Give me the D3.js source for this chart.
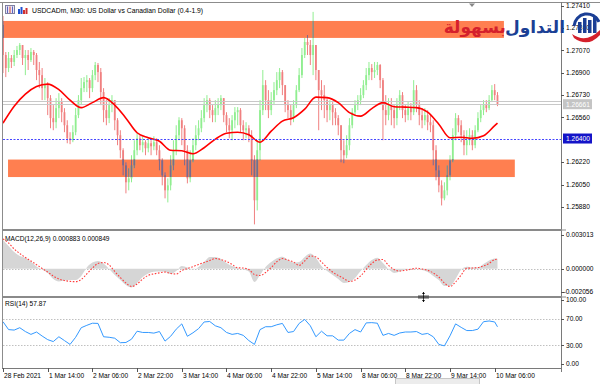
<!DOCTYPE html>
<html>
<head>
<meta charset="utf-8">
<script src="https://cdn.jsdelivr.net/npm/d3@7/dist/d3.min.js"></script>
<style>
body { margin: 0; background: #fff; }
svg { display: block; font-family: "Liberation Sans", Arial, sans-serif; }
</style>
</head>
<body>
<svg id="chart"></svg>
<script>
// USDCADm M30, shown here as one candle per hour (hour 0 = first bar on screen)
var timeLabels = ["28 Feb 2021", "1 Mar 14:00", "2 Mar 06:00", "2 Mar 22:00", "3 Mar 14:00",
  "4 Mar 06:00", "4 Mar 22:00", "5 Mar 14:00", "8 Mar 06:00", "8 Mar 22:00", "9 Mar 14:00", "10 Mar 06:00"];
var labelStep = 16; // hours between time labels

var firstOpen = 1.27264;
var closes = [
  1.27035,1.26936,1.27012,1.26982,1.27035,1.27073,1.27111,1.27012,1.27035,1.26997,
  1.27058,1.27035,1.26921,1.26882,1.26783,1.26806,1.26707,1.26555,1.26524,1.26631,
  1.26677,1.26600,1.26501,1.26402,1.26387,1.26448,1.26578,1.26692,1.26783,1.26829,
  1.26844,1.26783,1.26882,1.26959,1.26905,1.26753,1.26616,1.26555,1.26654,1.26692,
  1.26539,1.26425,1.26311,1.26196,1.26067,1.26097,1.26196,1.26311,1.26402,1.26349,
  1.26372,1.26326,1.26364,1.26341,1.26372,1.26311,1.26234,1.26120,1.26006,1.26044,
  1.26196,1.26311,1.26425,1.26539,1.26478,1.26311,1.26097,1.26234,1.26349,1.26425,
  1.26478,1.26555,1.26654,1.26692,1.26616,1.26578,1.26631,1.26654,1.26707,1.26578,
  1.26501,1.26463,1.26539,1.26600,1.26616,1.26501,1.26463,1.26478,1.26425,1.26234,
  1.25930,1.26311,1.26616,1.26806,1.26692,1.26616,1.26692,1.26768,1.26844,1.26905,
  1.26806,1.26654,1.26616,1.26555,1.26654,1.26768,1.26882,1.27035,1.27134,1.27111,
  1.27035,1.27111,1.26921,1.26768,1.26730,1.26692,1.26616,1.26654,1.26600,1.26555,
  1.26501,1.26311,1.26273,1.26349,1.26501,1.26600,1.26654,1.26692,1.26730,1.26806,
  1.26882,1.26936,1.26905,1.26921,1.26959,1.26844,1.26616,1.26578,1.26654,1.26616,
  1.26555,1.26654,1.26730,1.26616,1.26578,1.26631,1.26600,1.26768,1.26654,1.26578,
  1.26539,1.26578,1.26524,1.26501,1.26311,1.26158,1.26044,1.25945,1.26006,1.26120,
  1.26234,1.26425,1.26555,1.26501,1.26425,1.26349,1.26387,1.26425,1.26349,1.26463,
  1.26555,1.26616,1.26654,1.26631,1.26692,1.26768,1.26730,1.26661
];
var highs = [
  1.27332,1.27058,1.27058,1.27035,1.27073,1.27104,1.27126,1.27111,1.27073,1.27073,
  1.27088,1.27073,1.27050,1.26982,1.26936,1.26860,1.26829,1.26730,1.26654,1.26707,
  1.26745,1.26707,1.26631,1.26539,1.26448,1.26501,1.26631,1.26730,1.26860,1.26867,
  1.26882,1.26860,1.26921,1.26982,1.26974,1.26936,1.26783,1.26692,1.26707,1.26730,
  1.26692,1.26555,1.26463,1.26326,1.26219,1.26174,1.26273,1.26387,1.26440,1.26425,
  1.26417,1.26387,1.26402,1.26387,1.26417,1.26402,1.26349,1.26250,1.26143,1.26097,
  1.26273,1.26387,1.26501,1.26562,1.26555,1.26501,1.26349,1.26311,1.26402,1.26501,
  1.26539,1.26616,1.26707,1.26730,1.26707,1.26654,1.26692,1.26707,1.26730,1.26707,
  1.26600,1.26555,1.26578,1.26639,1.26639,1.26631,1.26539,1.26524,1.26501,1.26463,
  1.26273,1.26387,1.26692,1.26921,1.26844,1.26768,1.26753,1.26829,1.26905,1.26936,
  1.26921,1.26806,1.26692,1.26654,1.26692,1.26806,1.26936,1.27088,1.27165,1.27187,
  1.27149,1.27363,1.27111,1.26921,1.26844,1.26806,1.26707,1.26692,1.26677,1.26631,
  1.26578,1.26501,1.26387,1.26425,1.26555,1.26631,1.26692,1.26730,1.26783,1.26844,
  1.26936,1.26982,1.26966,1.26982,1.26982,1.26966,1.26860,1.26730,1.26707,1.26707,
  1.26654,1.26707,1.26768,1.26753,1.26654,1.26677,1.26669,1.26844,1.26806,1.26692,
  1.26631,1.26631,1.26616,1.26578,1.26539,1.26349,1.26196,1.26082,1.26067,1.26196,
  1.26273,1.26478,1.26593,1.26578,1.26539,1.26463,1.26463,1.26478,1.26463,1.26501,
  1.26600,1.26654,1.26692,1.26692,1.26730,1.26806,1.26814,1.26753
];
var lows = [
  1.26898,1.26867,1.26905,1.26936,1.26951,1.27012,1.27035,1.26959,1.26882,1.26921,
  1.26982,1.26959,1.26844,1.26783,1.26692,1.26692,1.26578,1.26478,1.26463,1.26478,
  1.26555,1.26524,1.26448,1.26364,1.26357,1.26372,1.26425,1.26555,1.26654,1.26753,
  1.26753,1.26707,1.26753,1.26844,1.26829,1.26654,1.26524,1.26501,1.26517,1.26600,
  1.26463,1.26349,1.26250,1.26120,1.25983,1.26006,1.26067,1.26174,1.26273,1.26311,
  1.26295,1.26273,1.26295,1.26273,1.26311,1.26273,1.26158,1.26044,1.25945,1.25914,
  1.26006,1.26158,1.26273,1.26387,1.26349,1.26196,1.26059,1.26067,1.26219,1.26311,
  1.26387,1.26448,1.26524,1.26600,1.26555,1.26524,1.26524,1.26578,1.26616,1.26524,
  1.26448,1.26402,1.26387,1.26478,1.26501,1.26448,1.26387,1.26402,1.26372,1.26120,
  1.25747,1.25853,1.26234,1.26578,1.26616,1.26555,1.26578,1.26654,1.26730,1.26783,
  1.26730,1.26600,1.26555,1.26501,1.26524,1.26631,1.26753,1.26860,1.27012,1.27035,
  1.26959,1.26882,1.26844,1.26463,1.26616,1.26555,1.26524,1.26539,1.26501,1.26501,
  1.26425,1.26219,1.26212,1.26250,1.26311,1.26478,1.26578,1.26616,1.26654,1.26707,
  1.26768,1.26844,1.26844,1.26860,1.26882,1.26783,1.26387,1.26501,1.26539,1.26501,
  1.26478,1.26501,1.26616,1.26555,1.26524,1.26539,1.26539,1.26578,1.26600,1.26501,
  1.26478,1.26501,1.26463,1.26448,1.26196,1.26082,1.25991,1.25891,1.25930,1.25968,
  1.26082,1.26219,1.26387,1.26448,1.26372,1.26273,1.26273,1.26349,1.26311,1.26326,
  1.26448,1.26524,1.26578,1.26600,1.26616,1.26677,1.26692,1.26646
];

// moving average, read every 4 hours, last value at the last bar
var maValues = [
  1.26517,1.26646,1.26738,1.26795,1.26814,1.26772,1.26692,1.26635,1.26673,1.26711,
  1.26654,1.26555,1.26444,1.26406,1.26379,1.26311,1.26307,1.26284,1.26330,1.26395,
  1.26440,1.26448,1.26429,1.26372,1.26456,1.26532,1.26558,1.26623,1.26715,1.26711,
  1.26673,1.26597,1.26570,1.26627,1.26673,1.26642,1.26639,1.26635,1.26600,1.26509,
  1.26406,1.26410,1.26402,1.26421,1.26498,1.26517
];
var maStep = 4;

// MACD(12,26,9), read every 2 hours
var macdValues = [
  0.00257,0.00203,0.00149,0.00114,0.00096,0.00064,0.00020,-0.00007,-0.00038,-0.00092,
  -0.00114,-0.00106,-0.00101,-0.00101,-0.00065,0.00011,0.00055,0.00069,0.00047,-0.00003,
  -0.00056,-0.00101,-0.00146,-0.00168,-0.00128,-0.00074,-0.00043,-0.00027,-0.00025,-0.00027,
  -0.00047,-0.00021,0.00024,0.00011,-0.00007,0.00015,0.00060,0.00105,0.00105,0.00087,
  0.00051,0.00024,0.00006,-0.00007,-0.00025,-0.00119,-0.00056,0.00015,0.00060,0.00093,
  0.00107,0.00078,0.00055,0.00060,0.00105,0.00136,0.00096,0.00024,-0.00021,-0.00056,
  -0.00092,-0.00128,-0.00119,-0.00083,-0.00021,0.00033,0.00078,0.00098,0.00051,-0.00003,
  -0.00038,-0.00025,-0.00007,0.00002,0.00002,-0.00012,-0.00030,-0.00065,-0.00101,-0.00155,
  -0.00155,-0.00092,-0.00007,0.00018,0.00011,0.00011,0.00042,0.00073,0.00091
];
var signalValues = [
  0.00266,0.00230,0.00176,0.00136,0.00100,0.00069,0.00036,0.00002,-0.00030,-0.00065,
  -0.00092,-0.00106,-0.00113,-0.00116,-0.00097,-0.00047,0.00006,0.00047,0.00055,0.00033,
  -0.00025,-0.00079,-0.00128,-0.00159,-0.00137,-0.00092,-0.00059,-0.00046,-0.00037,-0.00030,
  -0.00043,-0.00047,-0.00016,0.00002,0.00018,0.00038,0.00055,0.00073,0.00091,0.00082,
  0.00064,0.00038,0.00008,0.00006,-0.00007,-0.00052,-0.00061,-0.00034,0.00011,0.00062,
  0.00091,0.00078,0.00060,0.00029,0.00069,0.00114,0.00105,0.00060,0.00011,-0.00030,
  -0.00061,-0.00088,-0.00114,-0.00101,-0.00065,-0.00007,0.00047,0.00078,0.00082,0.00029,
  -0.00007,-0.00021,-0.00014,-0.00005,0.00004,-0.00003,-0.00014,-0.00038,-0.00074,-0.00128,
  -0.00159,-0.00119,-0.00056,0.00004,0.00006,0.00011,0.00024,0.00047,0.00082
];
var macdLast = 0.000883, signalLast = 0.000849;
var macdMax = 0.003013, macdMin = -0.002056;

// RSI(14), read every 2 hours
var rsiValues = [
  65.6,53.6,52.9,56.5,50.7,46.4,50.0,43.9,38.4,35.5,42.8,37.0,31.2,42.0,56.5,60.1,63.3,63.0,
  42.8,42.0,40.6,33.8,34.1,39.1,51.2,49.3,49.3,48.3,50.7,36.2,43.5,54.3,62.3,43.5,48.8,55.1,
  65.2,65.9,59.4,56.5,49.3,46.4,47.8,44.9,37.0,31.2,53.6,58.0,58.0,60.9,63.0,49.3,50.7,63.0,
  69.1,59.4,42.8,51.2,44.2,44.2,37.7,37.7,47.8,53.6,50.0,63.8,64.2,63.3,44.9,47.8,44.9,48.5,
  50.0,50.0,50.7,46.4,47.8,42.8,31.2,29.0,44.2,62.3,57.0,52.2,52.2,54.3,65.6,66.7,65.2
];
var rsiLast = 57.87;
var rsiLevels = [70, 30];
var rsiTicks = [100, 70, 30, 0];
var subStep = 2;

var priceTicks = [1.27410, 1.27240, 1.27070, 1.26900, 1.26730, 1.26560, 1.26220, 1.26050, 1.25880];
var bid = 1.26661, ask = 1.26684, alertLevel = 1.26400;
var zones = [
  {from: -2, to: 179.3, top: 1.27294, bottom: 1.27165},
  {from: 1.8, to: 183.2, top: 1.26240, bottom: 1.26107}
];

var W = 600, H = 384;
var left = 3, right = 561;
var mainTop = 3, mainBottom = 229;
var macdTop = 231, macdBottom = 296;
var rsiTop = 298, rsiBottom = 368;

var UP = "#90ee90", DOWN = "#f08080", INZONE = "#7b6a8a";

var svg = d3.select("#chart").attr("width", W).attr("height", H);
svg.append("rect").attr("width", W).attr("height", H).attr("fill", "#fff");

var x = d3.scaleLinear().domain([0, 176]).range([3, 494.7]);
var y = d3.scaleLinear().domain([1.25880, 1.27410]).range([206.9, 5.7]);
var yM = d3.scaleLinear().domain([macdMin, macdMax]).range([291.7, 235]);
var yR = d3.scaleLinear().domain([0, 100]).range([365, 299]);
var lastHour = closes.length - 1;

var defs = svg.append("defs");
defs.append("clipPath").attr("id", "mainClip").append("rect")
  .attr("x", left).attr("y", mainTop).attr("width", right - left).attr("height", mainBottom - mainTop);
var zoneClip = defs.append("clipPath").attr("id", "zoneClip");
zones.forEach(function(z) {
  zoneClip.append("rect")
    .attr("x", Math.max(left, x(z.from))).attr("y", y(z.top))
    .attr("width", x(z.to) - Math.max(left, x(z.from))).attr("height", y(z.bottom) - y(z.top));
});

var candles = closes.map(function(c, i) {
  return {h: i, o: i === 0 ? firstOpen : closes[i - 1], c: c, hi: highs[i], lo: lows[i]};
});

var main = svg.append("g").attr("clip-path", "url(#mainClip)");

var drawCandles = function(g, colorOf) {
  g.selectAll("line").data(candles).enter().append("line")
    .attr("x1", function(d) { return x(d.h); })
    .attr("x2", function(d) { return x(d.h); })
    .attr("y1", function(d) { return y(d.hi); })
    .attr("y2", function(d) { return y(d.lo); })
    .attr("stroke", colorOf).attr("stroke-width", 1);
  g.selectAll("rect").data(candles).enter().append("rect")
    .attr("x", function(d) { return x(d.h) - 0.9; })
    .attr("width", 1.8)
    .attr("y", function(d) { return y(Math.max(d.o, d.c)); })
    .attr("height", function(d) { return Math.max(0.8, Math.abs(y(d.o) - y(d.c))); })
    .attr("fill", colorOf);
};

// zones (drawn under the bars)
main.selectAll("rect.zone").data(zones).enter().append("rect").attr("class", "zone")
  .attr("x", function(d) { return x(d.from); })
  .attr("width", function(d) { return x(d.to) - x(d.from); })
  .attr("y", function(d) { return y(d.top); })
  .attr("height", function(d) { return y(d.bottom) - y(d.top); })
  .attr("fill", "#ff7f50");

drawCandles(main.append("g"), function(d) { return d.c >= d.o ? UP : DOWN; });
drawCandles(main.append("g").attr("clip-path", "url(#zoneClip)"), function() { return INZONE; });

// bid / ask lines
[ask, bid].forEach(function(p) {
  main.append("line").attr("x1", left).attr("x2", right).attr("y1", Math.round(y(p)) + 0.5).attr("y2", Math.round(y(p)) + 0.5)
    .attr("stroke", "#c8c8c8").attr("stroke-width", 1);
});

// moving average
var maPts = maValues.map(function(v, k) { return [k < maValues.length - 1 ? k * maStep : lastHour, v]; });
main.append("path").datum(maPts)
  .attr("d", d3.line().x(function(d) { return x(d[0]); }).y(function(d) { return y(d[1]); }).curve(d3.curveMonotoneX))
  .attr("fill", "none").attr("stroke", "#ff0000").attr("stroke-width", 1.6);

// alert level
main.append("line").attr("x1", left).attr("x2", right)
  .attr("y1", Math.round(y(alertLevel)) + 0.5).attr("y2", Math.round(y(alertLevel)) + 0.5)
  .attr("stroke", "#4646ff").attr("stroke-width", 1).attr("stroke-dasharray", "2,1.5");

// ---- MACD panel
var subPts = function(vals, last) {
  var pts = vals.map(function(v, j) { return [j * subStep, v]; });
  pts.push([lastHour, last]);
  return pts;
};
var macdPts = subPts(macdValues, macdLast);
svg.append("line").attr("x1", left).attr("x2", right).attr("y1", Math.round(yM(0)) + 0.5).attr("y2", Math.round(yM(0)) + 0.5)
  .attr("stroke", "#c0c0c0").attr("stroke-dasharray", "1.5,1.5");
svg.append("path").datum(macdPts)
  .attr("d", d3.area().x(function(d) { return x(d[0]); }).y0(yM(0)).y1(function(d) { return yM(d[1]); }).curve(d3.curveMonotoneX))
  .attr("fill", "#d6d6d6");
svg.append("path").datum(subPts(signalValues, signalLast))
  .attr("d", d3.line().x(function(d) { return x(d[0]); }).y(function(d) { return yM(d[1]); }).curve(d3.curveMonotoneX))
  .attr("fill", "none").attr("stroke", "#ff3c3c").attr("stroke-width", 1.1).attr("stroke-dasharray", "1.6,1.6");

// ---- RSI panel
rsiLevels.forEach(function(v) {
  svg.append("line").attr("x1", left).attr("x2", right).attr("y1", Math.round(yR(v)) + 0.5).attr("y2", Math.round(yR(v)) + 0.5)
    .attr("stroke", "#c0c0c0").attr("stroke-dasharray", "1.5,1.5");
});
svg.append("path").datum(subPts(rsiValues, rsiLast))
  .attr("d", d3.line().x(function(d) { return x(d[0]); }).y(function(d) { return yR(d[1]); }))
  .attr("fill", "none").attr("stroke", "#3399ff").attr("stroke-width", 1);

// ---- frames
var frame = svg.append("g").attr("fill", "none");
frame.append("line").attr("x1", 0).attr("x2", W).attr("y1", 2.5).attr("y2", 2.5).attr("stroke", "#8c8c8c");
frame.append("line").attr("x1", left - 0.5).attr("x2", left - 0.5).attr("y1", 2).attr("y2", rsiBottom).attr("stroke", "#8c8c8c");
frame.append("line").attr("x1", right + 0.5).attr("x2", right + 0.5).attr("y1", 2).attr("y2", rsiBottom + 4).attr("stroke", "#7a7a7a");
[mainBottom, macdBottom].forEach(function(yy) {
  svg.append("rect").attr("x", left - 1).attr("y", yy).attr("width", right - left + 2).attr("height", 2).attr("fill", "#8a8a8a");
  svg.append("line").attr("x1", right).attr("x2", right + 5).attr("y1", yy + 1).attr("y2", yy + 1).attr("stroke", "#8a8a8a");
});
frame.append("line").attr("x1", left - 1).attr("x2", right + 1).attr("y1", rsiBottom + 0.5).attr("y2", rsiBottom + 0.5).attr("stroke", "#7a7a7a");

// ---- right axis labels
var axisG = svg.append("g").attr("font-size", 6.6).attr("fill", "#000");
var rightLabel = function(yy, txt, dx) {
  axisG.append("line").attr("x1", right).attr("x2", right + 3).attr("y1", Math.round(yy) + 0.5).attr("y2", Math.round(yy) + 0.5).attr("stroke", "#555");
  axisG.append("text").attr("x", right + 5 + (dx || 0)).attr("y", yy).attr("dy", "0.35em").text(txt);
};
priceTicks.forEach(function(p) { rightLabel(y(p), p.toFixed(5)); });
[macdMax, 0, macdMin].forEach(function(v) { rightLabel(yM(v), v.toFixed(6), v < 0 ? -2.5 : 0); });
rsiTicks.forEach(function(v) {
  var yy = Math.min(Math.max(yR(v), rsiTop + 2), rsiBottom - 4);
  rightLabel(yy, v.toFixed(2));
});

// price tags
var tag = function(p, fill) {
  var yy = y(p);
  axisG.append("rect").attr("x", right + 2).attr("y", yy - 5).attr("width", 29).attr("height", 10).attr("fill", fill);
  axisG.append("text").attr("x", right + 5).attr("y", yy).attr("dy", "0.35em").attr("fill", "#fff").text(p.toFixed(5));
};
tag(bid, "#c4c4c4");
tag(alertLevel, "#1414c8");

// ---- time axis
var timeG = svg.append("g").attr("font-size", 6.6).attr("fill", "#000");
timeLabels.forEach(function(t, k) {
  var xx = Math.round(x(k * labelStep)) + 0.5;
  timeG.append("line").attr("x1", xx).attr("x2", xx).attr("y1", rsiBottom).attr("y2", rsiBottom + 4).attr("stroke", "#555");
  timeG.append("text").attr("x", xx + 0.5).attr("y", 377.5).text(t);
});
svg.append("rect").attr("x", 395.5).attr("y", 378.5).attr("width", 84).attr("height", 7)
  .attr("fill", "#ececec").attr("stroke", "#c6c6c6");

// ---- indicator captions and title
svg.append("text").attr("x", 5).attr("y", 240.5).attr("font-size", 6.6)
  .text("MACD(12,26,9) " + macdLast.toFixed(6) + " " + signalLast.toFixed(6));
svg.append("text").attr("x", 5).attr("y", 305.5).attr("font-size", 6.6)
  .text("RSI(14) " + rsiLast.toFixed(2));
svg.append("text").attr("x", 32).attr("y", 12.5).attr("font-size", 6.8)
  .text("USDCADm, M30:  US Dollar vs Canadian Dollar (0.4-1.9)");

// title icons
var ic = svg.append("g");
ic.append("rect").attr("x", 5.5).attr("y", 5.5).attr("width", 9).attr("height", 8).attr("fill", "#e8e8f0").attr("stroke", "#8080a0");
[7.5, 10, 12.5].forEach(function(xx, i) {
  ic.append("line").attr("x1", xx).attr("x2", xx).attr("y1", 6.5).attr("y2", 13).attr("stroke", i === 1 ? "#d04040" : "#6060c0");
});
[[18, 9, "#2050d0"], [20.5, 7, "#2050d0"], [23, 10, "#d03030"], [25.5, 8, "#d03030"]].forEach(function(b) {
  ic.append("rect").attr("x", b[0]).attr("y", b[1]).attr("width", 2).attr("height", 14 - b[1]).attr("fill", b[2]);
});

// chart shift marker
svg.append("path").attr("d", "M469,3.5 L475,3.5 L472,7 Z").attr("fill", "#888");

// panel splitter cursor
var cur = svg.append("g").attr("stroke", "#000").attr("stroke-width", 0.7);
cur.append("line").attr("x1", 418).attr("x2", 429).attr("y1", 296).attr("y2", 296);
cur.append("line").attr("x1", 418).attr("x2", 429).attr("y1", 298).attr("y2", 298);
cur.append("line").attr("x1", 423.5).attr("x2", 423.5).attr("y1", 292).attr("y2", 302);
svg.append("path").attr("d", "M422,294 L423.5,292 L425,294 Z M422,300 L423.5,302 L425,300 Z").attr("fill", "#000");

// ---- logo
var logo = svg.append("g");
logo.append("text").attr("x", 565).attr("y", 33).attr("text-anchor", "end")
  .attr("font-family", "DejaVu Sans").attr("font-weight", "bold").attr("font-size", 17)
  .attr("fill", "#1b3f95").text("التداول");
logo.append("text").attr("x", 506).attr("y", 33).attr("text-anchor", "end")
  .attr("font-family", "DejaVu Sans").attr("font-weight", "bold").attr("font-size", 17)
  .attr("fill", "#d4202c").text("بسهولة");
logo.append("path").attr("d", "M574,26 A13,13 0 0 1 599,22").attr("fill", "none").attr("stroke", "#1b3f95").attr("stroke-width", 3);
[[578, 22], [583, 18], [588, 20], [593, 16]].forEach(function(b) {
  logo.append("rect").attr("x", b[0]).attr("y", b[1]).attr("width", 3.5).attr("height", 33 - b[1]).attr("fill", "#1b3f95");
});
logo.append("path").attr("d", "M572,34 Q586,44 600,30 L600,35 Q588,48 574,38 Z").attr("fill", "#d4202c");
</script>
</body>
</html>
